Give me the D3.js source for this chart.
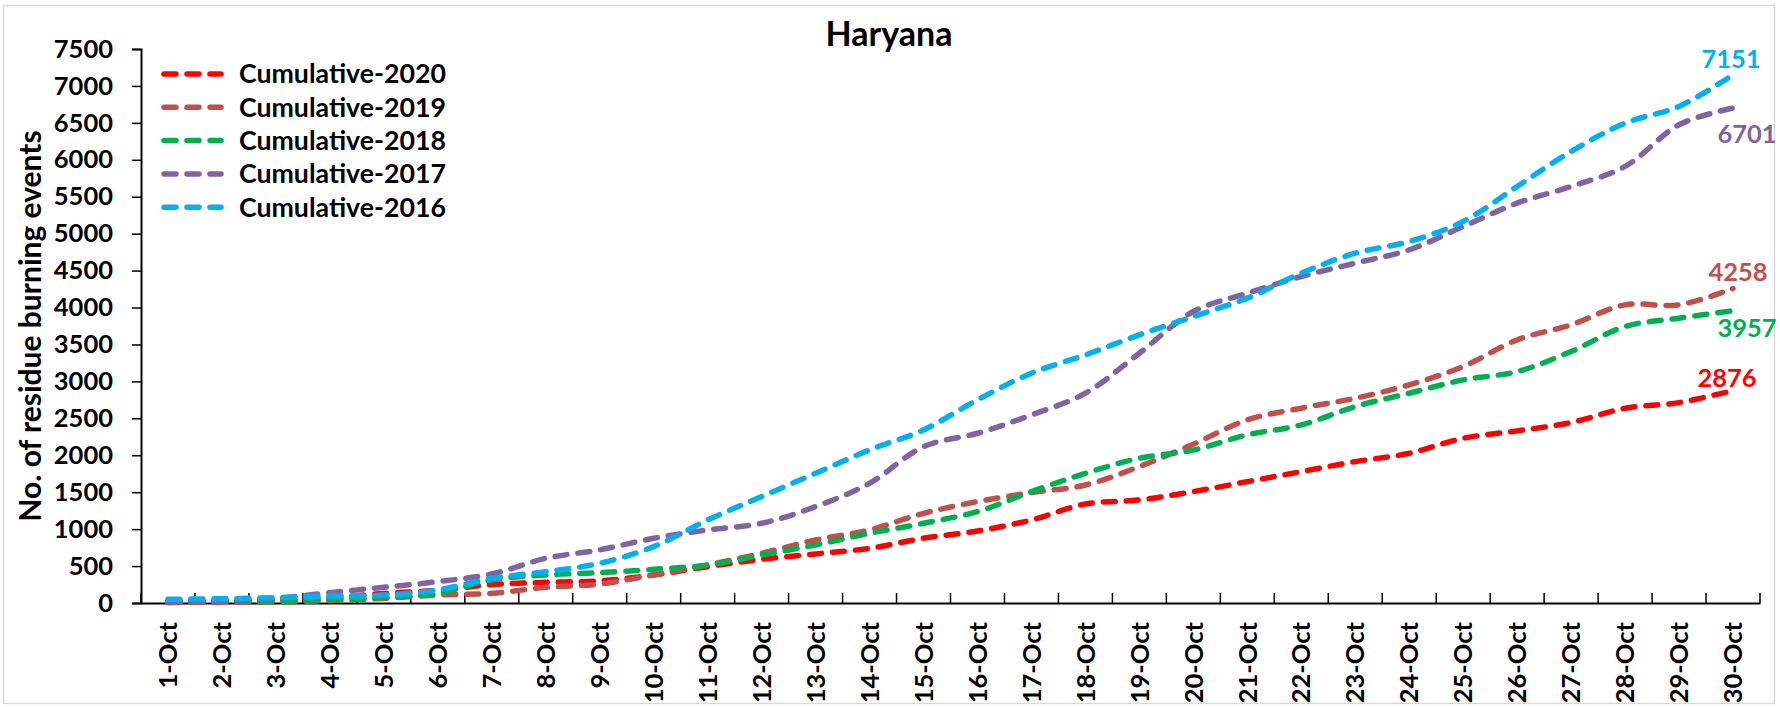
<!DOCTYPE html>
<html>
<head>
<meta charset="utf-8">
<script src="https://cdn.jsdelivr.net/npm/d3@7"></script>
<style>
  html, body { margin: 0; padding: 0; background: #fff; }
  svg { display: block; font-family: "Lato", "Open Sans", sans-serif; font-weight: 700; }
</style>
</head>
<body>
<svg id="chart" width="1780" height="707"></svg>
<script>
// ---------------- data ----------------
const days = ["1-Oct","2-Oct","3-Oct","4-Oct","5-Oct","6-Oct","7-Oct","8-Oct","9-Oct","10-Oct",
  "11-Oct","12-Oct","13-Oct","14-Oct","15-Oct","16-Oct","17-Oct","18-Oct","19-Oct","20-Oct",
  "21-Oct","22-Oct","23-Oct","24-Oct","25-Oct","26-Oct","27-Oct","28-Oct","29-Oct","30-Oct"];

const cum2020 = [18, 27, 40, 72, 130, 170, 250, 280, 300, 379, 492, 591, 664, 740, 876, 975, 1124, 1341, 1395, 1508,
  1643, 1779, 1914, 2027, 2230, 2330, 2443, 2637, 2713, 2876];
const cum2019 = [5, 9, 18, 32, 63, 108, 131, 212, 257, 380, 515, 673, 853, 989, 1214, 1373, 1494, 1598, 1847, 2150,
  2479, 2637, 2772, 2953, 3201, 3562, 3766, 4036, 4036, 4258];
const cum2018 = [18, 23, 32, 50, 77, 131, 312, 379, 411, 456, 515, 650, 786, 944, 1079, 1237, 1508, 1756, 1960, 2070,
  2276, 2411, 2659, 2840, 3020, 3133, 3404, 3743, 3856, 3957];
const cum2017 = [18, 32, 63, 140, 212, 289, 393, 605, 720, 876, 989, 1079, 1305, 1621, 2117, 2298, 2546, 2840, 3382, 3946,
  4194, 4420, 4601, 4781, 5097, 5413, 5639, 5910, 6474, 6701];
const cum2016 = [50, 59, 72, 95, 108, 176, 334, 424, 537, 763, 1124, 1440, 1756, 2072, 2343, 2750, 3111, 3359, 3630, 3878,
  4127, 4465, 4736, 4894, 5165, 5639, 6113, 6497, 6723, 7151];

const seriesNames = ["Cumulative-2020","Cumulative-2019","Cumulative-2018","Cumulative-2017","Cumulative-2016"];
const yTicks = [0,500,1000,1500,2000,2500,3000,3500,4000,4500,5000,5500,6000,6500,7000,7500];
const titleText = "Haryana";
const yTitle = "No. of residue burning events";

// ---------------- styles ----------------
const colors = ["#FF0000","#C0504D","#00B050","#8064A2","#00B0F0"];
const endLabelOffsets = [[-6,-4],[5,-7],[14,26],[14,35],[-2,-7]];

const series = [cum2020, cum2019, cum2018, cum2017, cum2016].map((v,i)=>({
  name: seriesNames[i], values: v, color: colors[i], off: endLabelOffsets[i]
}));

const svg = d3.select("#chart");
const plotLeft = 141, plotRight = 1760, plotTop = 49, plotBottom = 603;

svg.append("rect").attr("x",3.5).attr("y",5.5).attr("width",1771).attr("height",698)
  .attr("fill","#fff").attr("stroke","#D9D9D9").attr("stroke-width",1.5);

const x = d3.scaleBand().domain(days).range([plotLeft,plotRight]).paddingInner(0).paddingOuter(0);
const xc = d => x(d) + x.bandwidth()/2;
const y = d3.scaleLinear().domain([0,7500]).range([plotBottom,plotTop]);

// title
svg.append("text").attr("x",889).attr("y",46).attr("text-anchor","middle")
  .attr("font-size",34).attr("fill","#000").text(titleText);

// y axis
const yAxis = svg.append("g").attr("transform",`translate(${plotLeft},0)`)
  .call(d3.axisLeft(y).tickValues(yTicks).tickSize(9).tickPadding(19).tickFormat(d3.format("d")));
yAxis.select(".domain").attr("stroke","#000").attr("stroke-width",2);
yAxis.selectAll(".tick line").attr("stroke","#000").attr("stroke-width",1.5);
yAxis.selectAll(".tick text").attr("font-size",25.5).attr("font-family","Lato, sans-serif")
  .attr("font-weight",700).attr("fill","#000");

// x axis
const xAxis = svg.append("g").attr("transform",`translate(0,${plotBottom})`)
  .call(d3.axisBottom(x).tickSize(0).tickPadding(0));
xAxis.select(".domain").attr("stroke","#000").attr("stroke-width",2);
xAxis.selectAll(".tick text")
  .attr("font-size",25.5).attr("font-family","Lato, sans-serif").attr("font-weight",700).attr("fill","#000")
  .attr("text-anchor","end")
  .attr("transform","translate(0,19) rotate(-90)")
  .attr("x",0).attr("y",0).attr("dy","0.36em");
// boundary tick marks pointing up
const bounds = days.map(d => x(d)).concat([plotRight]);
svg.append("g").selectAll("line").data(bounds).join("line")
  .attr("x1",d=>d).attr("x2",d=>d).attr("y1",plotBottom).attr("y2",plotBottom-10)
  .attr("stroke","#000").attr("stroke-width",1.5);

// y title
svg.append("text").attr("transform",`translate(41,326) rotate(-90)`)
  .attr("text-anchor","middle").attr("font-size",30).attr("fill","#000").text(yTitle);

// lines
const line = d3.line().x((d,i)=>xc(days[i])).y(d=>y(d)).curve(d3.curveCatmullRom.alpha(0.5));
svg.append("g").selectAll("path").data(series).join("path")
  .attr("d", s => line(s.values))
  .attr("fill","none").attr("stroke", s=>s.color).attr("stroke-width",5.5)
  .attr("stroke-dasharray","12,11").attr("stroke-linecap","round");

// end labels
svg.append("g").selectAll("text").data(series).join("text")
  .attr("x", s => xc(days[days.length-1]) + s.off[0])
  .attr("y", s => y(s.values[s.values.length-1]) + s.off[1])
  .attr("text-anchor","middle").attr("font-size",25.5).attr("fill", s=>s.color)
  .text(s => s.values[s.values.length-1]);

// legend
const lg = svg.append("g");
series.forEach((s,i)=>{
  const yy = 74 + i*33.3;
  lg.append("line").attr("x1",164).attr("x2",221).attr("y1",yy).attr("y2",yy)
    .attr("stroke",s.color).attr("stroke-width",5.5).attr("stroke-dasharray","12,11").attr("stroke-linecap","round");
  lg.append("text").attr("x",239).attr("y",yy).attr("dy","0.35em").attr("font-size",26.7)
    .attr("fill","#000").text(s.name);
});
</script>
</body>
</html>
